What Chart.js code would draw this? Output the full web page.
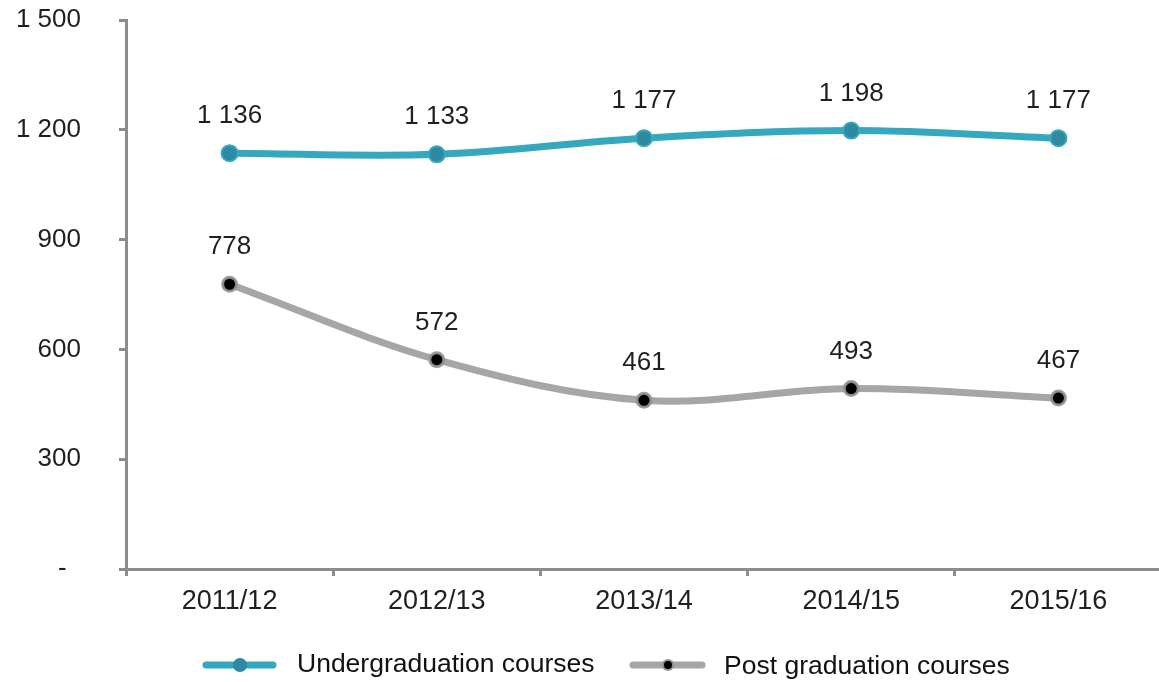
<!DOCTYPE html>
<html>
<head>
<meta charset="utf-8">
<script src="https://cdn.jsdelivr.net/npm/chart.js@4"></script>
<style>
  html, body { margin: 0; padding: 0; background: #fff; overflow: hidden; }
  #wrap { width: 1172px; height: 682px; }
</style>
</head>
<body>
<div id="wrap"><canvas id="myChart" width="1172" height="682"></canvas></div>
<script>
// data block
const years = ["2011/12", "2012/13", "2013/14", "2014/15", "2015/16"];
const undergrad = [1136, 1133, 1177, 1198, 1177];
const postgrad = [778, 572, 461, 493, 467];
const yTicks = [0, 300, 600, 900, 1200, 1500];

const fmt = (v) => {
  if (v === 0) return "-  ";
  return String(v).replace(/\B(?=(\d{3})+(?!\d))/g, " ");
};

const TEAL = "#35a8bf";
const TEAL_DARK = "#2e8aa1";
const GREY = "#a6a6a6";
const AXIS = "#8c8c8c";
const FONT = "Liberation Sans, Arial, sans-serif";

// plugin - value labels above each point
const valueLabels = {
  id: "valueLabels",
  afterDatasetsDraw: (chart) => {
    const { ctx, data } = chart;
    ctx.save();
    ctx.font = "26px " + FONT;
    ctx.fillStyle = "#1f1f1f";
    ctx.textAlign = "center";
    ctx.textBaseline = "middle";
    data.datasets.forEach((dataset, i) => {
      chart.getDatasetMeta(i).data.forEach((pt, j) => {
        ctx.fillText(fmt(dataset.data[j]), pt.x, pt.y - 37);
      });
    });
    ctx.restore();
  },
};

// plugin - legend like the excel one (line + marker)
const customLegend = {
  id: "customLegend",
  afterDraw: (chart) => {
    const { ctx } = chart;
    const y = 665;
    ctx.save();
    ctx.lineCap = "round";
    // undergrad
    ctx.strokeStyle = TEAL;
    ctx.lineWidth = 7;
    ctx.beginPath(); ctx.moveTo(206, y); ctx.lineTo(273, y); ctx.stroke();
    ctx.fillStyle = TEAL_DARK;
    ctx.beginPath(); ctx.arc(240, y, 7, 0, Math.PI * 2); ctx.fill();
    // postgrad
    ctx.strokeStyle = GREY;
    ctx.beginPath(); ctx.moveTo(633, y); ctx.lineTo(702, y); ctx.stroke();
    ctx.fillStyle = "rgba(140,140,140,0.9)";
    ctx.beginPath(); ctx.arc(668, y, 6, 0, Math.PI * 2); ctx.fill();
    ctx.fillStyle = "#000";
    ctx.beginPath(); ctx.arc(668, y, 4, 0, Math.PI * 2); ctx.fill();

    ctx.font = "26.5px " + FONT;
    ctx.fillStyle = "#111";
    ctx.textAlign = "left";
    ctx.textBaseline = "middle";
    ctx.fillText("Undergraduation courses", 297, y);
    ctx.fillText("Post graduation courses", 724, y + 2);
    ctx.restore();
  },
};

const config = {
  type: "line",
  data: {
    labels: years,
    datasets: [
      {
        label: "Undergraduation courses",
        data: undergrad,
        borderColor: TEAL,
        borderWidth: 7,
        backgroundColor: TEAL_DARK,
        pointBackgroundColor: TEAL_DARK,
        pointBorderColor: TEAL,
        pointBorderWidth: 2,
        pointRadius: 8,
        tension: 0.35,
      },
      {
        label: "Post graduation courses",
        data: postgrad,
        borderColor: GREY,
        borderWidth: 7,
        backgroundColor: "#000",
        pointBackgroundColor: "#000",
        pointBorderColor: "rgba(150,150,150,0.9)",
        pointBorderWidth: 3,
        pointRadius: 7,
        tension: 0.35,
      },
    ],
  },
  options: {
    responsive: false,
    animation: false,
    layout: { padding: { top: 20, left: 0, right: 0, bottom: 63 } },
    plugins: {
      legend: { display: false },
      tooltip: { enabled: false },
    },
    scales: {
      x: {
        offset: true,
        border: { color: AXIS, width: 3 },
        grid: {
          offset: true,
          drawOnChartArea: false,
          color: AXIS,
          lineWidth: 3,
          tickLength: 7,
        },
        ticks: {
          color: "#1f1f1f",
          font: { family: FONT, size: 27 },
          padding: 9,
        },
        afterFit: (scale) => {
          scale.height = 50;
          scale.paddingLeft = 0;
          scale.paddingRight = 0;
        },
      },
      y: {
        min: 0,
        max: 1500,
        afterBuildTicks: (scale) => {
          scale.ticks = yTicks.map((v) => ({ value: v }));
        },
        border: { color: AXIS, width: 3 },
        grid: {
          drawOnChartArea: false,
          color: AXIS,
          lineWidth: 3,
          tickLength: 7,
        },
        ticks: {
          color: "#1f1f1f",
          font: { family: FONT, size: 26 },
          padding: 38,
          callback: (v) => fmt(v),
        },
        afterFit: (scale) => {
          scale.width = 126;
          scale.paddingTop = 0;
          scale.paddingBottom = 0;
        },
      },
    },
  },
  plugins: [valueLabels, customLegend],
};

const myChart = new Chart(document.getElementById("myChart"), config);
</script>
</body>
</html>
